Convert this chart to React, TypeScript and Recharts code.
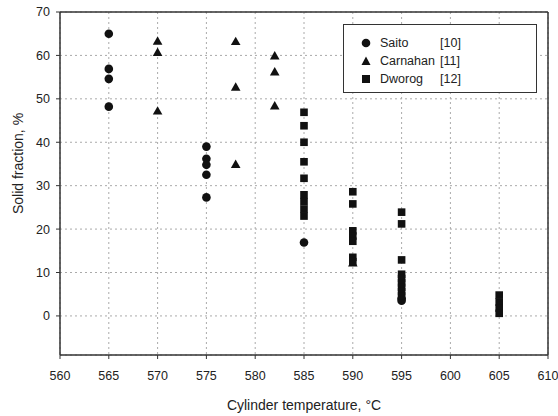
import React from 'react';
import { ScatterChart, Scatter, XAxis, YAxis, CartesianGrid, ReferenceLine } from 'recharts';

const xTicks = [560, 565, 570, 575, 580, 585, 590, 595, 600, 605, 610];
const yTicks = [0, 10, 20, 30, 40, 50, 60, 70];

const saito = [
  { x: 565, y: 65.0 }, { x: 565, y: 56.9 }, { x: 565, y: 54.6 }, { x: 565, y: 48.2 },
  { x: 575, y: 39.0 }, { x: 575, y: 36.2 }, { x: 575, y: 34.8 }, { x: 575, y: 32.5 }, { x: 575, y: 27.3 },
  { x: 585, y: 16.9 }, { x: 595, y: 4.0 }, { x: 595, y: 3.5 },
];
const carnahan = [
  { x: 570, y: 63.3 }, { x: 570, y: 60.7 }, { x: 570, y: 47.2 },
  { x: 578, y: 63.2 }, { x: 578, y: 52.7 }, { x: 578, y: 34.9 },
  { x: 582, y: 59.9 }, { x: 582, y: 56.2 }, { x: 582, y: 48.4 },
  { x: 590, y: 12.2 },
];
const dworog = [
  { x: 585, y: 46.9 }, { x: 585, y: 43.8 }, { x: 585, y: 40.0 }, { x: 585, y: 35.5 }, { x: 585, y: 31.7 },
  { x: 585, y: 27.9 }, { x: 585, y: 26.3 }, { x: 585, y: 24.6 }, { x: 585, y: 23.0 },
  { x: 590, y: 28.6 }, { x: 590, y: 25.8 }, { x: 590, y: 19.6 }, { x: 590, y: 18.4 }, { x: 590, y: 17.2 },
  { x: 590, y: 13.5 }, { x: 590, y: 12.5 },
  { x: 595, y: 23.9 }, { x: 595, y: 21.2 }, { x: 595, y: 12.9 }, { x: 595, y: 9.6 }, { x: 595, y: 8.6 },
  { x: 595, y: 7.6 }, { x: 595, y: 6.6 }, { x: 595, y: 5.6 }, { x: 595, y: 4.6 },
  { x: 605, y: 4.8 }, { x: 605, y: 3.2 }, { x: 605, y: 1.8 }, { x: 605, y: 0.6 },
];

const legendItems = [
  { name: 'Saito', ref: '[10]', shape: 'circle' },
  { name: 'Carnahan', ref: '[11]', shape: 'triangle' },
  { name: 'Dworog', ref: '[12]', shape: 'square' },
];

const INK = '#111';
const FONT = 'Liberation Sans, Arial, sans-serif';

const CircleShape = (p: any) => <circle cx={p.cx} cy={p.cy} r={4.3} fill={INK} />;
const TriShape = (p: any) => (
  <polygon points={`${p.cx},${p.cy - 4.8} ${p.cx + 4.8},${p.cy + 3.6} ${p.cx - 4.8},${p.cy + 3.6}`} fill={INK} />
);
const SquareShape = (p: any) => <rect x={p.cx - 3.8} y={p.cy - 3.8} width={7.6} height={7.6} fill={INK} />;

const MiniSymbol = ({ shape }: { shape: string }) => {
  if (shape === 'circle') return <svg width={12} height={12}><circle cx={6} cy={6} r={4.3} fill={INK} /></svg>;
  if (shape === 'triangle') return <svg width={12} height={12}><polygon points="6,1.5 10.5,10 1.5,10" fill={INK} /></svg>;
  return <svg width={12} height={12}><rect x={2} y={2} width={8} height={8} fill={INK} /></svg>;
};

const LegendBox = () => (
  <div style={{
    position: 'absolute', left: 343, top: 24,
    width: 194, height: 69, boxSizing: 'border-box', border: '1.5px solid #333', background: '#fff',
    fontFamily: FONT, fontSize: 12.5, color: '#222', paddingTop: 9, paddingLeft: 16,
  }}>
    {legendItems.map((it) => (
      <div key={it.name} style={{ display: 'flex', alignItems: 'center', height: 18 }}>
        <div style={{ width: 20, display: 'flex', alignItems: 'center' }}><MiniSymbol shape={it.shape} /></div>
        <span style={{ width: 60, whiteSpace: 'nowrap' }}>{it.name}</span>
        <span>{it.ref}</span>
      </div>
    ))}
  </div>
);

const tickStyle = { fontFamily: FONT, fontSize: 12.5, fill: '#222' };

export default function App() {
  return (
    <div style={{ position: 'absolute', left: 0, top: 0, width: 558, height: 416, background: '#fff' }}>
      <ScatterChart width={558} height={416} margin={{ top: 12, right: 10, left: 0, bottom: 0 }}>
        <CartesianGrid stroke="#aaa" strokeDasharray="2 3" />
        <XAxis
          type="number" dataKey="x" domain={[560, 610]} ticks={xTicks} interval={0}
          height={61} tick={tickStyle} tickLine={{ stroke: '#333' }} axisLine={{ stroke: '#333', strokeWidth: 1.5 }}
          tickSize={4} tickMargin={12}
          label={{ value: 'Cylinder temperature, °C', position: 'insideBottom', offset: 6, style: { fontFamily: FONT, fontSize: 14, fill: '#222' } }}
        />
        <YAxis
          type="number" dataKey="y" domain={[-9, 70]} ticks={yTicks} interval={0} allowDataOverflow
          width={60} tick={tickStyle} tickLine={{ stroke: '#333' }} axisLine={{ stroke: '#333', strokeWidth: 1.5 }}
          tickSize={4} tickMargin={6}
          label={{ value: 'Solid fraction, %', angle: -90, position: 'insideLeft', offset: 18, dy: -20, style: { textAnchor: 'middle', fontFamily: FONT, fontSize: 14, fill: '#222' } }}
        />
        <ReferenceLine y={70} stroke="#333" strokeWidth={1.5} />
        <ReferenceLine x={610} stroke="#333" strokeWidth={1.5} />
        <Scatter name="Saito" data={saito} shape={<CircleShape />} isAnimationActive={false} />
        <Scatter name="Carnahan" data={carnahan} shape={<TriShape />} isAnimationActive={false} />
        <Scatter name="Dworog" data={dworog} shape={<SquareShape />} isAnimationActive={false} />
      </ScatterChart>
      <LegendBox />
    </div>
  );
}
